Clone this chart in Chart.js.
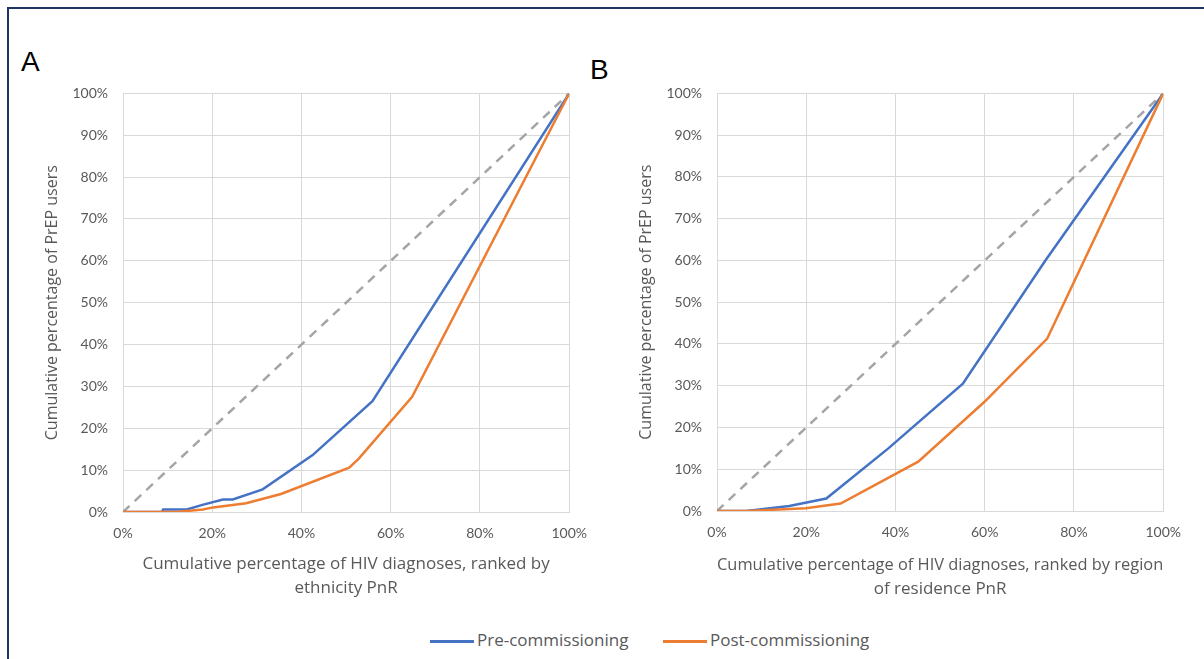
<!DOCTYPE html>
<html lang="en">
<head>
<meta charset="UTF-8">
<title>PrEP concentration curves</title>
<style>
  body { margin: 0; background: #fff; }
  #wrap { position: relative; width: 1204px; height: 659px; overflow: hidden; background: #fff; }
  .frame { position: absolute; left: 7px; top: 7px; width: 1300px; height: 800px;
           border-top: 2px solid #1f3461; border-left: 2px solid #1f3461; }
  .tag { position: absolute; font-family: "Liberation Sans", Arial, sans-serif; font-size: 28px; line-height: 28px; color: #000; }
  canvas { position: absolute; }
  .key { position: absolute; top: 630px; height: 20px; font-family: "Open Sans", sans-serif; font-size: 17px;
         line-height: 20px; color: #595959; white-space: nowrap; }
  .key i { display: inline-block; width: 44px; height: 3px; vertical-align: middle; margin-right: 3px; }
</style>
</head>
<body>
<div id="wrap">
  <div class="frame"></div>
  <div class="tag" style="left:21px; top:48px;">A</div>
  <div class="tag" style="left:590px; top:56px;">B</div>
  <canvas id="chartA" width="580" height="540" style="left:20px; top:70px;"></canvas>
  <canvas id="chartB" width="580" height="540" style="left:614px; top:70px;"></canvas>
  <div class="key" style="left:430px;"><i style="background:#4472c4"></i>Pre-commissioning</div>
  <div class="key" style="left:663px;"><i style="background:#ed7d31"></i>Post-commissioning</div>
</div>

<script src="https://cdn.jsdelivr.net/npm/chart.js"></script>
<script>
// Panel A: ranked by ethnicity PnR (values in %)
const aPreX  = [0, 8.8, 9.0, 14.3, 17.8, 22.4, 24.6, 31.3, 42.5, 55.9, 100];
const aPreY  = [0, 0, 0.6, 0.6, 1.7, 3.0, 3.0, 5.4, 13.6, 26.5, 100];
const aPostX = [0, 12.0, 17.9, 20.2, 27.6, 35.4, 50.7, 52.9, 64.8, 100];
const aPostY = [0, 0, 0.6, 1.1, 2.1, 4.3, 10.6, 12.8, 27.5, 100];

// Panel B: ranked by region of residence PnR
const bPreX  = [0, 6.6, 16.2, 24.5, 38.4, 55.1, 73.6, 100];
const bPreY  = [0, 0, 1.2, 3.0, 15.0, 30.5, 60.0, 100];
const bPostX = [0, 6.6, 19.9, 27.7, 45.1, 59.9, 74.0, 100];
const bPostY = [0, 0, 0.65, 1.8, 11.8, 26.1, 41.3, 100];

// line of equality
const equalX = [0, 100];
const equalY = [0, 100];

const xTicks = [0, 20, 40, 60, 80, 100];
const yTicks = [0, 10, 20, 30, 40, 50, 60, 70, 80, 90, 100];

const titleA = ['Cumulative percentage of HIV diagnoses, ranked by', 'ethnicity PnR'];
const titleB = ['Cumulative percentage of HIV diagnoses, ranked by region', 'of residence PnR'];
const yTitle = 'Cumulative percentage of PrEP users';

const grey = '#595959';
const gridCol = '#d9d9d9';

function pts(xs, ys) {
  return xs.map((x, i) => ({ x: x, y: ys[i] }));
}

function makeChart(id, preX, preY, postX, postY, xTitle, pad, xH, titleBottom) {
  return new Chart(document.getElementById(id), {
    type: 'line',
    data: {
      datasets: [
        { label: 'Post-commissioning', data: pts(postX, postY), borderColor: '#ed7d31', borderWidth: 2.5, order: 0 },
        { label: 'Pre-commissioning', data: pts(preX, preY), borderColor: '#4472c4', borderWidth: 2.5, order: 1 },
        { label: 'Equality', data: pts(equalX, equalY), borderColor: '#a5a5a5', borderWidth: 2.5, borderDash: [9, 7], order: 2 }
      ]
    },
    options: {
      responsive: false,
      animation: false,
      layout: { padding: pad },
      elements: { point: { radius: 0 }, line: { tension: 0, borderCapStyle: 'butt' } },
      plugins: { legend: { display: false }, tooltip: { enabled: false } },
      scales: {
        x: {
          type: 'linear', min: 0, max: 100,
          afterBuildTicks: s => { s.ticks = xTicks.map(v => ({ value: v })); },
          afterFit: s => { s.height = xH; },
          grid: { color: gridCol, drawTicks: false },
          border: { color: gridCol },
          ticks: { color: grey, font: { family: 'Lato', size: 14 }, padding: 13, maxRotation: 0,
                   callback: v => v + '%' },
          title: { display: true, text: xTitle, color: grey,
                   font: { family: 'Open Sans', size: 17, lineHeight: 1.4 }, padding: { top: 0, bottom: titleBottom } }
        },
        y: {
          type: 'linear', min: 0, max: 100,
          afterBuildTicks: s => { s.ticks = yTicks.map(v => ({ value: v })); },
          afterFit: s => { s.width = 103; },
          grid: { color: gridCol, drawTicks: false },
          border: { color: gridCol },
          ticks: { color: grey, font: { family: 'Lato', size: 14 }, padding: 15,
                   callback: v => v + '%' },
          title: { display: true, text: yTitle, color: grey,
                   font: { family: 'Open Sans', size: 16, lineHeight: 1.5 }, padding: { top: 20, bottom: 0 } }
        }
      }
    }
  });
}

makeChart('chartA', aPreX, aPreY, aPostX, aPostY, titleA, { top: 22, right: 29, bottom: 0, left: 0 }, 98, 10);
makeChart('chartB', bPreX, bPreY, bPostX, bPostY, titleB, { top: 23, right: 27, bottom: 0, left: 0 }, 99, 9);
</script>
</body>
</html>
